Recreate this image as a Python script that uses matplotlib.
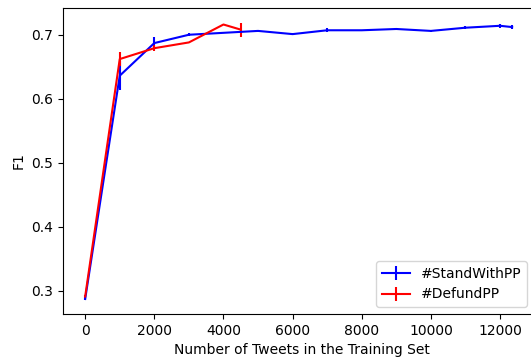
import matplotlib
matplotlib.use("Agg")
import matplotlib.pyplot as plt

# #StandWithPP learning curve
stand_x = [0, 1000, 2000, 3000, 4000, 5000, 6000, 7000, 8000, 9000, 10000, 11000, 12000, 12350]
stand_f1 = [0.287, 0.636, 0.687, 0.700, 0.703, 0.706, 0.701, 0.707, 0.707, 0.709, 0.706, 0.711, 0.714, 0.712]
stand_err = [0.002, 0.023, 0.010, 0.002, 0.001, 0.001, 0.001, 0.003, 0.001, 0.001, 0.001, 0.002, 0.003, 0.003]

# #DefundPP learning curve
defund_x = [0, 1000, 2000, 3000, 4000, 4500]
defund_f1 = [0.291, 0.662, 0.679, 0.688, 0.716, 0.708]
defund_err = [0.002, 0.011, 0.005, 0.001, 0.001, 0.011]

fig = plt.figure(figsize=(5.31, 3.58), dpi=100)
# axes run a little past the right edge, as in the cropped original
ax = fig.add_axes([0.119, 0.123, 0.898, 0.855])

ax.errorbar(stand_x, stand_f1, yerr=stand_err, color='b', label='#StandWithPP')
ax.errorbar(defund_x, defund_f1, yerr=defund_err, color='r', label='#DefundPP')

ax.set_xlim(-636, 13157)
ax.set_ylim(0.2636, 0.742)
ax.set_xlabel('Number of Tweets in the Training Set')
ax.set_ylabel('F1')
ax.set_xticks([0, 2000, 4000, 6000, 8000, 10000, 12000])
ax.legend(loc='lower right', bbox_to_anchor=(0.9874, 0.0), borderaxespad=0.5)

fig.savefig('out.png', dpi=100)
